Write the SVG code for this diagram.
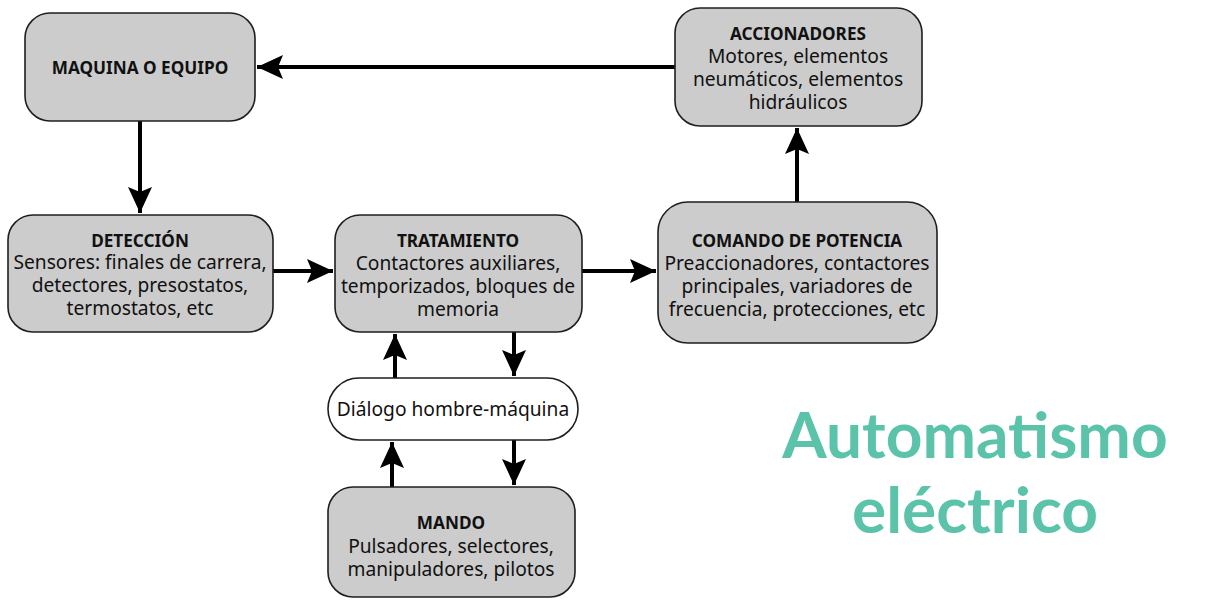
<svg xmlns="http://www.w3.org/2000/svg" width="1209" height="607" viewBox="0 0 1209 607">
<style>
.box{fill:#cccccc;stroke:#1e1e1e;stroke-width:1.6}
.pill{fill:#ffffff;stroke:#1e1e1e;stroke-width:1.6}
.t{font-family:"Noto Sans",sans-serif;font-size:17.2px;font-weight:bold;fill:#111;text-anchor:middle}
.b{font-family:"Noto Sans",sans-serif;font-size:19.2px;fill:#111;text-anchor:middle}
.big{font-family:Lato,"Open Sans",sans-serif;font-size:64px;font-weight:bold;fill:#5cc3ab;text-anchor:middle}
.c{stroke:#000;stroke-width:4;fill:none;marker-end:url(#ah)}
</style>
<defs>
<marker id="ah" markerUnits="userSpaceOnUse" markerWidth="28" markerHeight="26" refX="26" refY="12" orient="auto">
<path d="M0,0 L26,12 L0,24 L5,12 z" fill="#000"/>
</marker>
</defs>
<rect width="1209" height="607" fill="#fff"/>
<g id="connectors">
<path class="c" d="M675,67 H257"/>
<path class="c" d="M140,121 V213"/>
<path class="c" d="M273,271 H333"/>
<path class="c" d="M582,271 H656"/>
<path class="c" d="M797,202 V128"/>
<path class="c" d="M395,378 V334"/>
<path class="c" d="M514,332 V376"/>
<path class="c" d="M392,487 V442"/>
<path class="c" d="M514,440 V485"/>
</g>
<g id="maquina">
<rect class="box" x="25" y="13" width="230" height="108" rx="25"/>
<text class="t" x="140" y="74">MAQUINA O EQUIPO</text>
</g>
<g id="accionadores">
<rect class="box" x="675" y="8" width="247" height="118" rx="25"/>
<text class="t" x="798" y="40">ACCIONADORES</text>
<text class="b" x="798" y="63">Motores, elementos</text>
<text class="b" x="798" y="86">neumáticos, elementos</text>
<text class="b" x="798" y="109">hidráulicos</text>
</g>
<g id="deteccion">
<rect class="box" x="8" y="215" width="265" height="117" rx="25"/>
<text class="t" x="140" y="247">DETECCIÓN</text>
<text class="b" x="140" y="269">Sensores: finales de carrera,</text>
<text class="b" x="140" y="292">detectores, presostatos,</text>
<text class="b" x="140" y="315">termostatos, etc</text>
</g>
<g id="tratamiento">
<rect class="box" x="335" y="215" width="247" height="117" rx="25"/>
<text class="t" x="458" y="247">TRATAMIENTO</text>
<text class="b" x="458" y="270">Contactores auxiliares,</text>
<text class="b" x="458" y="293">temporizados, bloques de</text>
<text class="b" x="458" y="316">memoria</text>
</g>
<g id="comando">
<rect class="box" x="658" y="202" width="279" height="141" rx="30"/>
<text class="t" x="797" y="247">COMANDO DE POTENCIA</text>
<text class="b" x="797" y="270">Preaccionadores, contactores</text>
<text class="b" x="797" y="293">principales, variadores de</text>
<text class="b" x="797" y="316">frecuencia, protecciones, etc</text>
</g>
<g id="dialogo">
<rect class="pill" x="328" y="378" width="250" height="62" rx="31"/>
<text class="b" x="453" y="416">Diálogo hombre-máquina</text>
</g>
<g id="mando">
<rect class="box" x="328" y="487" width="247" height="110" rx="25"/>
<text class="t" x="451" y="529">MANDO</text>
<text class="b" x="451" y="553">Pulsadores, selectores,</text>
<text class="b" x="451" y="576">manipuladores, pilotos</text>
</g>
<g id="title">
<text class="big" x="975" y="458">Automatismo</text>
<text class="big" x="975" y="533">eléctrico</text>
</g>
</svg>
